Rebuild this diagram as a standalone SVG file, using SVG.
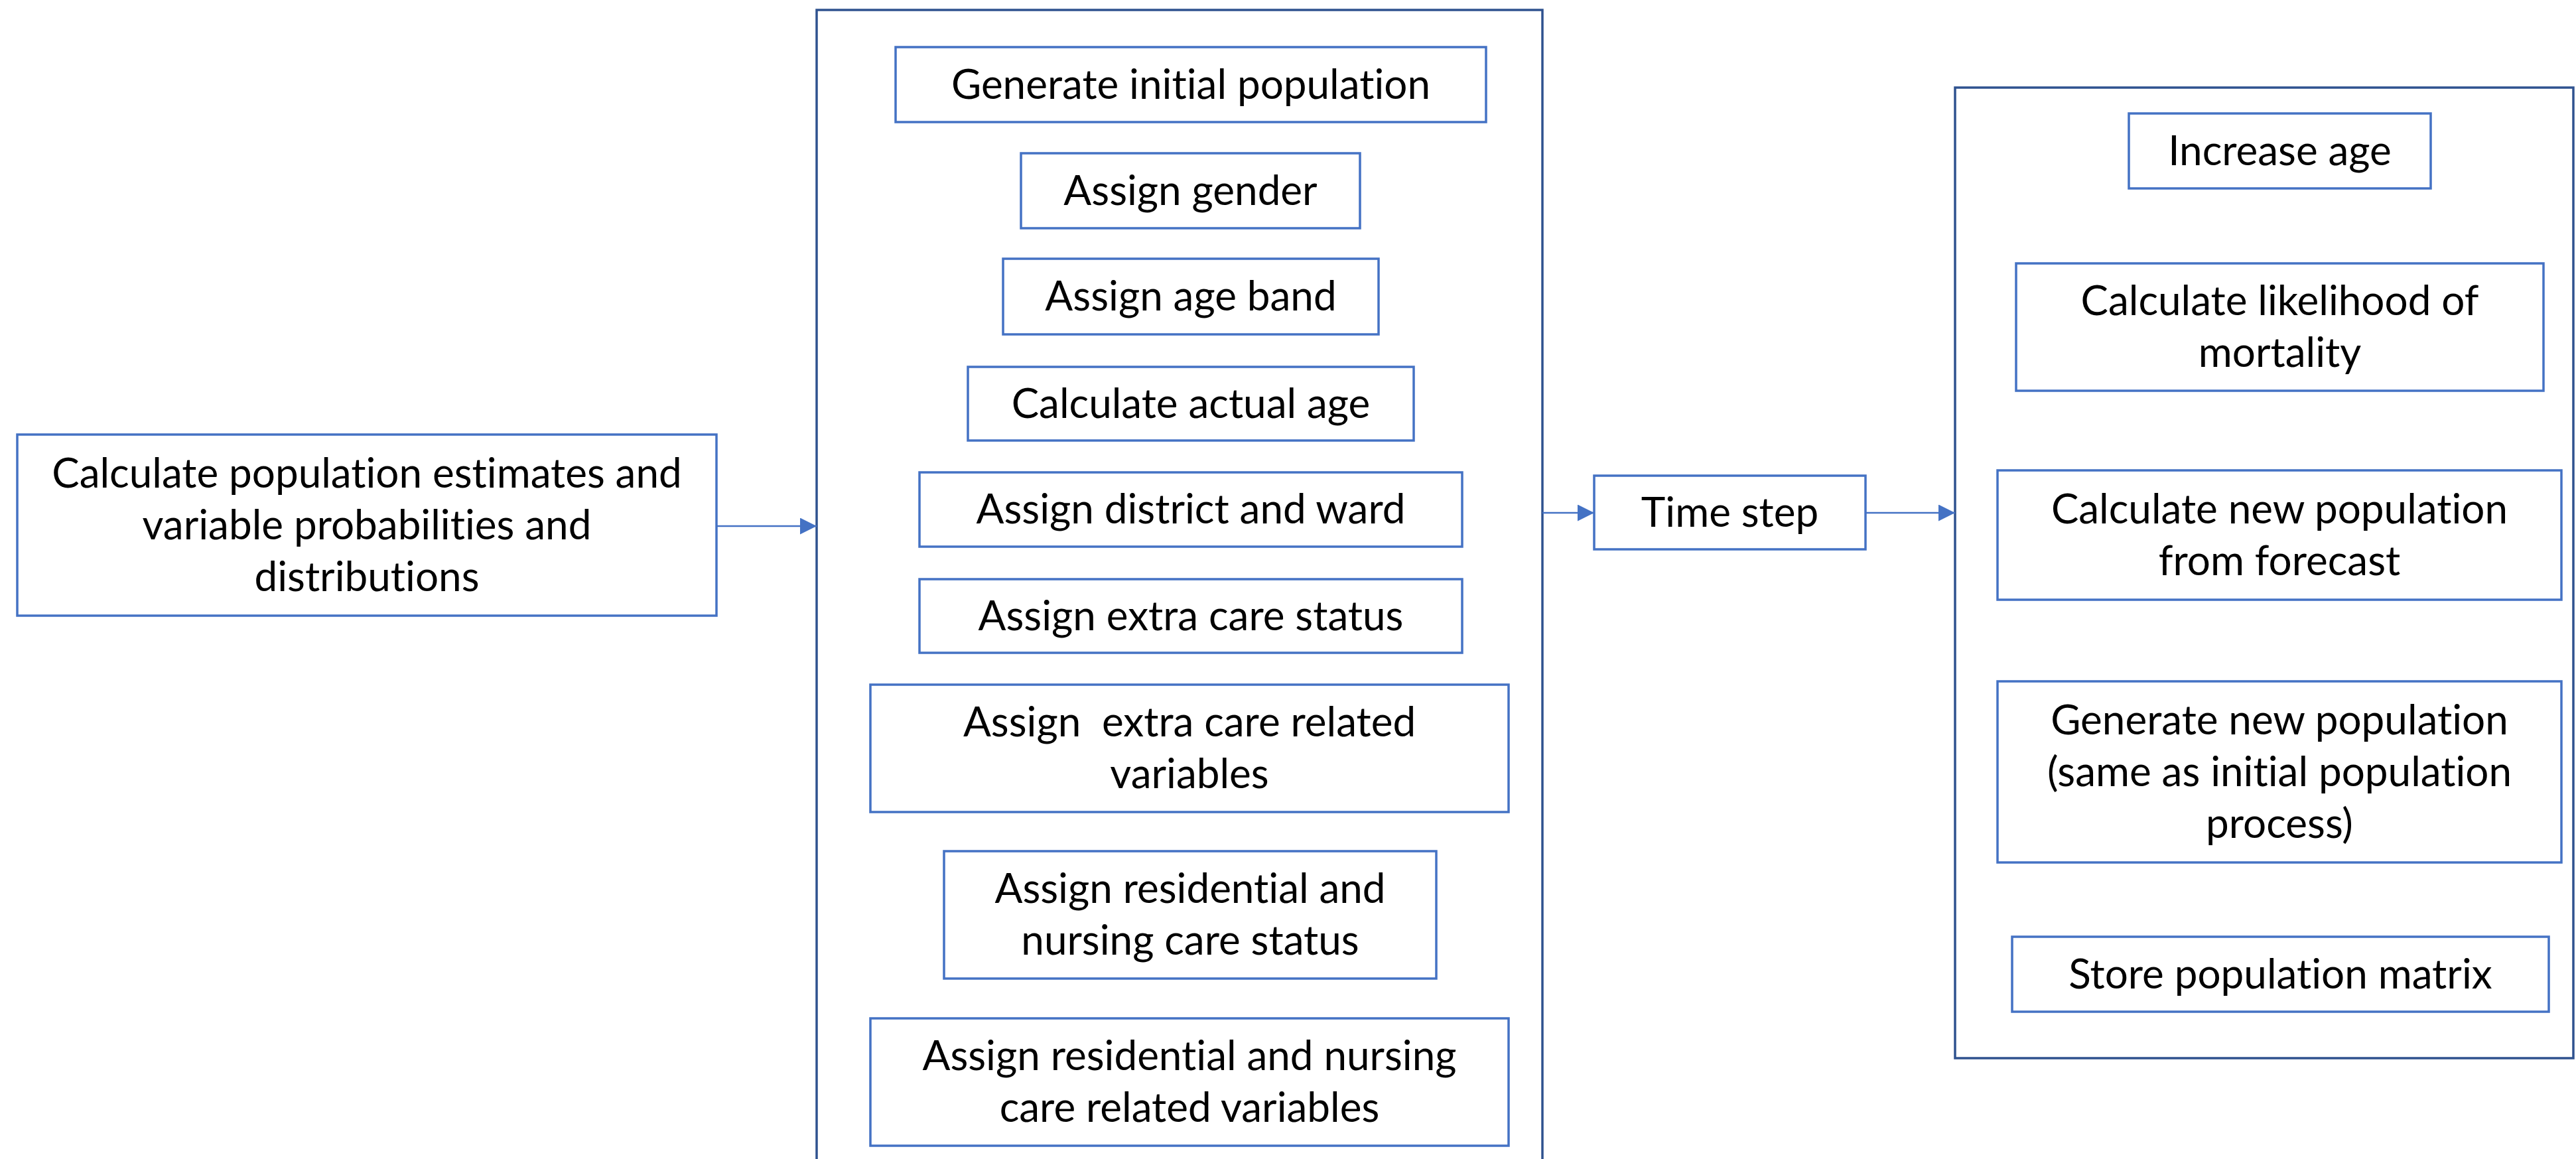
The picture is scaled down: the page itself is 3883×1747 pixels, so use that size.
<svg xmlns="http://www.w3.org/2000/svg" width="3883" height="1747" viewBox="0 0 3883 1747">
  <style>
    .box { fill: #ffffff; stroke: #4472C4; stroke-width: 3.5; }
    .frame { fill: none; stroke: #2F528F; stroke-width: 3.5; }
    .t { font-family: Lato, "Open Sans", "Liberation Sans", sans-serif; font-size: 62px; fill: #000000; text-anchor: middle; font-variant-ligatures: none; }
    .pre { white-space: pre; }
    .link { stroke: #4472C4; stroke-width: 2.5; fill: none; marker-end: url(#arrow); }
  </style>
  <defs>
    <marker id="arrow" viewBox="0 0 10 10" refX="10" refY="5" markerUnits="userSpaceOnUse" markerWidth="25" markerHeight="25" orient="auto">
      <path d="M0,0 L10,5 L0,10 z" fill="#4472C4"/>
    </marker>
  </defs>
  <rect width="3883" height="1747" fill="#ffffff"/>

  <!-- grouping frames -->
  <g id="setup-stage">
    <rect class="frame" x="1231" y="15" width="1094" height="1760"/>
  </g>
  <g id="yearly-update-stage">
    <rect class="frame" x="2947" y="132" width="932" height="1463"/>
  </g>

  <!-- connectors -->
  <g id="connectors">
    <line class="link" x1="1080" y1="793" x2="1231" y2="793"/>
    <line class="link" x1="2325" y1="773" x2="2403" y2="773"/>
    <line class="link" x1="2812" y1="773" x2="2947" y2="773"/>
  </g>

  <g id="estimates">
    <rect class="box" x="26" y="655" width="1054" height="273"/>
    <text class="t" x="553" y="734.5">Calculate population estimates and</text>
    <text class="t" x="553" y="812.5">variable probabilities and</text>
    <text class="t" x="553" y="890.5">distributions</text>
  </g>

  <g id="generate-initial">
    <rect class="box" x="1350" y="71" width="890" height="113"/>
    <text class="t" x="1795" y="148.5">Generate initial population</text>
  </g>
  <g id="assign-gender">
    <rect class="box" x="1539" y="231" width="511" height="113"/>
    <text class="t" x="1794.5" y="308.5">Assign gender</text>
  </g>
  <g id="assign-age-band">
    <rect class="box" x="1512" y="390" width="566" height="114"/>
    <text class="t" x="1795" y="468">Assign age band</text>
  </g>
  <g id="actual-age">
    <rect class="box" x="1459" y="553" width="672" height="111"/>
    <text class="t" x="1795" y="629.5">Calculate actual age</text>
  </g>
  <g id="district-ward">
    <rect class="box" x="1386" y="712" width="818" height="112"/>
    <text class="t" x="1795" y="789">Assign district and ward</text>
  </g>
  <g id="extra-care-status">
    <rect class="box" x="1386" y="873" width="818" height="111"/>
    <text class="t" x="1795" y="949.5">Assign extra care status</text>
  </g>
  <g id="extra-care-vars">
    <rect class="box" x="1312" y="1032" width="962" height="192"/>
    <text class="t pre" x="1793" y="1110">Assign  extra care related</text>
    <text class="t" x="1793" y="1188">variables</text>
  </g>
  <g id="residential-status">
    <rect class="box" x="1423" y="1283" width="742" height="192"/>
    <text class="t" x="1794" y="1361">Assign residential and</text>
    <text class="t" x="1794" y="1439">nursing care status</text>
  </g>
  <g id="residential-vars">
    <rect class="box" x="1312" y="1535" width="962" height="192"/>
    <text class="t" x="1793" y="1613">Assign residential and nursing</text>
    <text class="t" x="1793" y="1691">care related variables</text>
  </g>

  <g id="time-step">
    <rect class="box" x="2403" y="717" width="409" height="111"/>
    <text class="t" x="2607.5" y="793.5">Time step</text>
  </g>

  <g id="increase-age">
    <rect class="box" x="3209" y="171" width="455" height="113"/>
    <text class="t" x="3436.5" y="248.5">Increase age</text>
  </g>
  <g id="mortality">
    <rect class="box" x="3039" y="397" width="795" height="192"/>
    <text class="t" x="3436.5" y="475">Calculate likelihood of</text>
    <text class="t" x="3436.5" y="553">mortality</text>
  </g>
  <g id="forecast">
    <rect class="box" x="3011" y="709" width="850" height="195"/>
    <text class="t" x="3436" y="788.5">Calculate new population</text>
    <text class="t" x="3436" y="866.5">from forecast</text>
  </g>
  <g id="generate-new">
    <rect class="box" x="3011" y="1027" width="850" height="273"/>
    <text class="t" x="3436" y="1106.5">Generate new population</text>
    <text class="t" x="3436" y="1184.5">(same as initial population</text>
    <text class="t" x="3436" y="1262.5">process)</text>
  </g>
  <g id="store-matrix">
    <rect class="box" x="3033" y="1412" width="809" height="113"/>
    <text class="t" x="3437.5" y="1489.5">Store population matrix</text>
  </g>
</svg>
